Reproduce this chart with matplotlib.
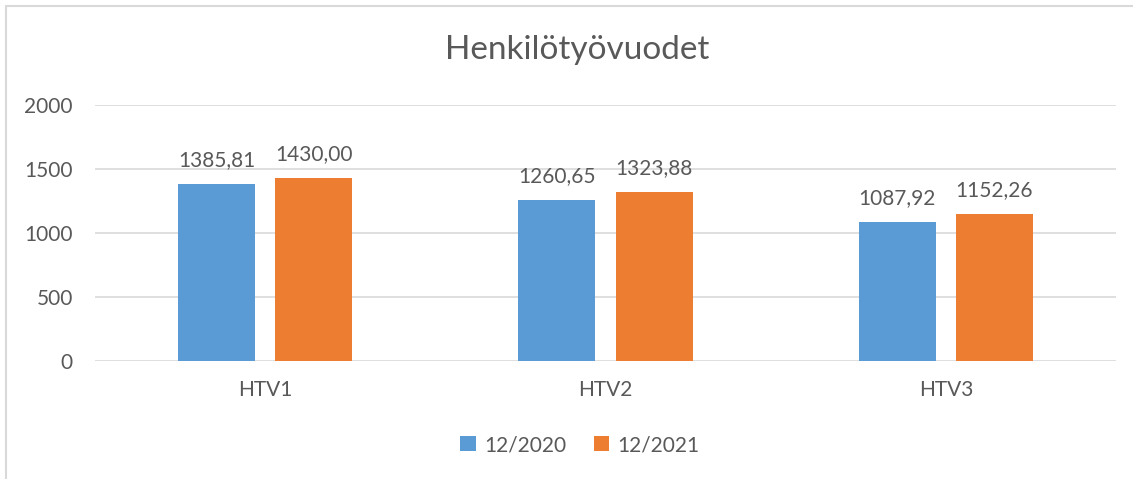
import matplotlib.pyplot as plt
import numpy as np
from matplotlib.patches import Rectangle

categories = ["HTV1", "HTV2", "HTV3"]
series_names = ["12/2020", "12/2021"]
values_2020 = [1385.81, 1260.65, 1087.92]
values_2021 = [1430.00, 1323.88, 1152.26]
colors = ["#5B9BD5", "#ED7D31"]
text_color = "#595959"

plt.rcParams["font.family"] = ["Lato", "DejaVu Sans"]

fig = plt.figure(figsize=(11.33, 4.79), dpi=100)
ax = fig.add_axes([95 / 1133, 1 - 361 / 479, 1021 / 1133, 256 / 479])

# light frame around the chart (cut off on the right and bottom)
fig.patches.append(Rectangle((6 / 1133, -0.05), 1.2, 1 - 6 / 479 + 0.05,
                             transform=fig.transFigure, fill=False,
                             edgecolor="#D9D9D9", linewidth=1.5))

x = np.arange(len(categories))
width = 0.226
offset = 0.143

for vals, name, col, sign in [(values_2020, series_names[0], colors[0], -1),
                              (values_2021, series_names[1], colors[1], 1)]:
    bars = ax.bar(x + sign * offset, vals, width, color=col, label=name, zorder=3)
    for b, v in zip(bars, vals):
        ax.text(b.get_x() + b.get_width() / 2, v + 105, f"{v:.2f}".replace(".", ","),
                ha="center", va="bottom", fontsize=15, color=text_color)

ax.set_xlim(-0.5, 2.5)
ax.set_ylim(0, 2000)
ax.set_yticks([0, 500, 1000, 1500, 2000])
ax.yaxis.grid(True, color="#D9D9D9", linewidth=1.2, zorder=0)
ax.set_xticks(x)
ax.set_xticklabels(categories)
ax.tick_params(axis="both", length=0, labelsize=15, labelcolor=text_color)
ax.tick_params(axis="x", pad=14)
ax.tick_params(axis="y", pad=16)
for s in ax.spines.values():
    s.set_visible(False)

fig.text(577 / 1133, 1 - 50 / 479, "Henkilötyövuodet", ha="center", va="center",
         fontsize=24, color=text_color)

fig.legend(loc="center", bbox_to_anchor=(580 / 1133, 1 - 445 / 479), ncol=2,
           frameon=False, fontsize=15, labelcolor=text_color, handlelength=0.75,
           handleheight=0.75, handletextpad=0.4, columnspacing=1.3)

fig.savefig("out.png", dpi=100)
